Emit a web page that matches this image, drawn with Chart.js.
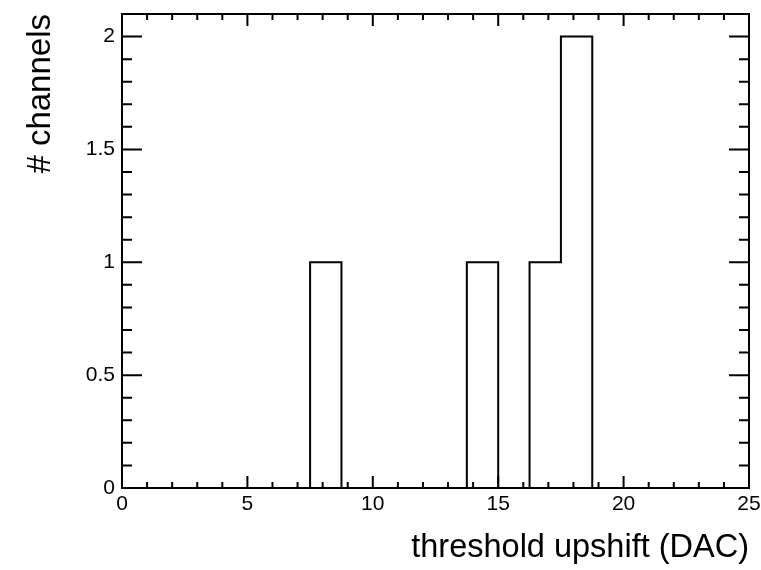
<!DOCTYPE html>
<html>
<head>
<meta charset="utf-8">
<script src="https://cdn.jsdelivr.net/npm/chart.js@4/dist/chart.umd.min.js"></script>
<style>
    html, body { margin: 0; padding: 0; background: #fff; }
    #wrap { width: 761px; height: 570px; }
</style>
</head>
<body>
<div id="wrap"><canvas id="histChart"></canvas></div>
<script>
// Histogram: 20 bins of 1.25 DAC between 0 and 25
const binEdges = [0, 1.25, 2.5, 3.75, 5, 6.25, 7.5, 8.75, 10, 11.25, 12.5,
    13.75, 15, 16.25, 17.5, 18.75, 20, 21.25, 22.5, 23.75, 25];
const binCounts = [0, 0, 0, 0, 0, 0, 1, 0, 0, 0, 0, 1, 0, 1, 2, 0, 0, 0, 0, 0];

const xRange = [0, 25];
const yRange = [0, 2.1];
const xTickValues = [0, 5, 10, 15, 20, 25];
const yTickValues = [0, 0.5, 1, 1.5, 2];
const xMinorStep = 1;
const yMinorStep = 0.1;

const xTitle = 'threshold upshift (DAC)';
const yTitle = '# channels';

const fontFamily = '"Liberation Sans", Arial, Helvetica, sans-serif';

document.addEventListener('DOMContentLoaded', function () {

    // step outline: point i sits on the upper edge of bin i-1
    // (first point is the lower edge of bin 0, at zero)
    const points = binEdges.map(function (e, i) {
        return { x: e, y: i === 0 ? 0 : binCounts[i - 1] };
    });

    // ROOT-like frame with inward ticks on all four sides
    const rootFrame = {
        id: 'rootFrame',
        afterDraw: function (chart) {
            const ctx = chart.ctx;
            const a = chart.chartArea;
            const xs = chart.scales.x;
            const ys = chart.scales.y;
            ctx.save();
            ctx.strokeStyle = '#000';
            ctx.lineWidth = 2;
            ctx.beginPath();

            const nx = Math.round((xRange[1] - xRange[0]) / xMinorStep);
            for (let i = 0; i <= nx; i++) {
                const v = xRange[0] + i * xMinorStep;
                const major = xTickValues.some(function (t) { return Math.abs(t - v) < 1e-6; });
                const len = major ? 12 : 6;
                const px = xs.getPixelForValue(v);
                ctx.moveTo(px, a.bottom); ctx.lineTo(px, a.bottom - len);
                ctx.moveTo(px, a.top); ctx.lineTo(px, a.top + len);
            }

            const ny = Math.floor((yRange[1] - yRange[0]) / yMinorStep + 1e-6);
            for (let i = 0; i <= ny; i++) {
                const v = yRange[0] + i * yMinorStep;
                const major = yTickValues.some(function (t) { return Math.abs(t - v) < 1e-6; });
                const len = major ? 20 : 10;
                const py = ys.getPixelForValue(v);
                ctx.moveTo(a.left, py); ctx.lineTo(a.left + len, py);
                ctx.moveTo(a.right, py); ctx.lineTo(a.right - len, py);
            }
            ctx.stroke();

            ctx.strokeRect(a.left, a.top, a.right - a.left, a.bottom - a.top);
            ctx.restore();
        }
    };

    new Chart(document.getElementById('histChart'), {
        type: 'line',
        data: {
            datasets: [{
                data: points,
                stepped: 'after',
                borderColor: '#000',
                borderWidth: 2,
                pointRadius: 0,
                fill: false
            }]
        },
        options: {
            responsive: true,
            maintainAspectRatio: false,
            animation: false,
            layout: { padding: { left: 0, top: 14, right: 12, bottom: 0 } },
            plugins: {
                legend: { display: false },
                tooltip: { enabled: false }
            },
            scales: {
                x: {
                    type: 'linear',
                    min: xRange[0],
                    max: xRange[1],
                    afterBuildTicks: function (scale) {
                        scale.ticks = xTickValues.map(function (v) { return { value: v }; });
                    },
                    afterFit: function (scale) {
                        scale.height = 82;
                        // let the end labels hang over the margins like ROOT does
                        scale.paddingLeft = 0;
                        scale.paddingRight = 0;
                    },
                    grid: { display: false, drawTicks: false },
                    border: { display: false },
                    ticks: {
                        color: '#000',
                        font: { family: fontFamily, size: 21 },
                        padding: 4,
                        maxRotation: 0,
                        autoSkip: false,
                        callback: function (v) { return String(v); }
                    },
                    title: {
                        display: true,
                        text: xTitle,
                        align: 'end',
                        color: '#000',
                        font: { family: fontFamily, size: 32.5, lineHeight: 1 },
                        padding: { top: 0, bottom: 6 }
                    }
                },
                y: {
                    type: 'linear',
                    min: yRange[0],
                    max: yRange[1],
                    afterBuildTicks: function (scale) {
                        scale.ticks = yTickValues.map(function (v) { return { value: v }; });
                    },
                    afterFit: function (scale) {
                        scale.width = 122;
                        scale.paddingTop = 0;
                        scale.paddingBottom = 0;
                    },
                    grid: { display: false, drawTicks: false },
                    border: { display: false },
                    ticks: {
                        color: '#000',
                        font: { family: fontFamily, size: 21 },
                        padding: 7,
                        callback: function (v) { return String(v); }
                    },
                    title: {
                        display: true,
                        text: yTitle,
                        align: 'end',
                        color: '#000',
                        font: { family: fontFamily, size: 33, lineHeight: 1 },
                        padding: { top: 24, bottom: 0 }
                    }
                }
            }
        },
        plugins: [rootFrame]
    });
});
</script>
</body>
</html>
